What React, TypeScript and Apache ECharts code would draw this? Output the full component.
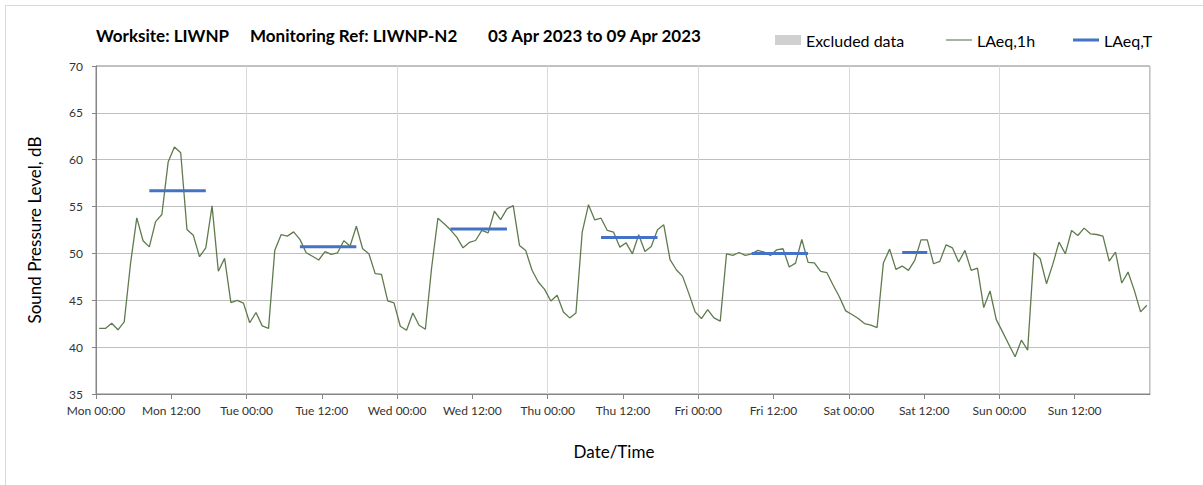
import React, { useEffect, useRef } from "react";
import * as echarts from "echarts";

// Hourly LAeq,1h values, Mon 00:00 .. Sun 23:00 (03–09 Apr 2023)
const laeq1h: number[] = [
  // Mon
  42.0, 42.0, 42.55, 41.85, 42.7, 48.9, 53.8, 51.35, 50.7, 53.4, 54.15, 59.75,
  61.35, 60.75, 52.55, 51.95, 49.65, 50.6, 55.07, 48.1, 49.47, 44.75, 45.0, 44.7,
  // Tue
  42.6, 43.7, 42.27, 42.0, 50.35, 52.0, 51.85, 52.3, 51.5, 50.07, 49.7, 49.3,
  50.2, 49.9, 50.07, 51.35, 50.8, 52.9, 50.5, 49.96, 47.84, 47.77, 44.93, 44.72,
  // Wed
  42.23, 41.8, 43.65, 42.34, 41.91, 48.5, 53.76, 53.16, 52.52, 51.74, 50.6, 51.17,
  51.38, 52.45, 52.2, 54.5, 53.6, 54.75, 55.1, 50.85, 50.3, 48.2, 46.95, 46.17,
  // Thu
  44.93, 45.53, 43.76, 43.12, 43.65, 52.27, 55.2, 53.58, 53.76, 52.45, 52.27, 50.67,
  51.13, 49.96, 51.99, 50.21, 50.74, 52.52, 53.05, 49.33, 48.26, 47.55, 45.71, 43.76,
  // Fri
  43.05, 44.0, 43.12, 42.77, 49.96, 49.79, 50.1, 49.79, 49.96, 50.32, 50.14, 49.79,
  50.39, 50.5, 48.55, 48.97, 51.49, 49.04, 49.0, 48.09, 47.94, 46.6, 45.35, 43.87,
  // Sat
  43.48, 43.05, 42.52, 42.34, 42.09, 48.97, 50.46, 48.3, 48.65, 48.19, 49.26, 51.45,
  51.45, 48.9, 49.15, 50.92, 50.6, 49.08, 50.32, 48.19, 48.44, 44.22, 45.99, 42.94,
  // Sun
  41.63, 40.28, 38.97, 40.74, 39.68, 50.07, 49.43, 46.77, 48.83, 51.2, 49.96, 52.45,
  51.91, 52.7, 52.09, 52.02, 51.84, 49.18, 50.14, 46.84, 48.01, 46.06, 43.76, 44.47,
];

// LAeq,T periods (hour index from Mon 00:00) and levels
const laeqTStart: number[] = [8, 32, 56, 80, 104, 128];
const laeqTEnd: number[] = [17, 41, 65, 89, 113, 132];
const laeqTValue: number[] = [56.7, 50.7, 52.6, 51.7, 50.0, 50.1];

const dayNames: string[] = ["Mon", "Tue", "Wed", "Thu", "Fri", "Sat", "Sun"];
const yTicks = { min: 35, max: 70, step: 5 };

const FONT = "Lato, 'Open Sans', sans-serif";

// legend icons: full 26x10 box (zero-area corner marks) with a centred bar
const thinLineIcon = "path://M0,0 L0.01,0 L0,0 Z M0,10 L0.01,10 L0,10 Z M0,4.5 L26,4.5 L26,5.6 L0,5.6 Z";
const thickLineIcon = "path://M0,0 L0.01,0 L0,0 Z M0,10 L0.01,10 L0,10 Z M0,3.5 L26,3.5 L26,6.5 L0,6.5 Z";

export default function App() {
  const ref = useRef<HTMLDivElement>(null);

  useEffect(() => {
    if (!ref.current) return;
    const chart = echarts.init(ref.current, null, { renderer: "svg" });

    const lineData = laeq1h.map((v, i) => [i + 0.5, v]);
    const tSeries = laeqTStart.map((s, k) => ({
      name: "LAeq,T",
      type: "line",
      xAxisIndex: 0,
      symbol: "none",
      showSymbol: false,
      color: "#4472c4",
      lineStyle: { color: "#4472c4", width: 3 },
      z: 4,
      data: [
        [s + 0.5, laeqTValue[k]],
        [laeqTEnd[k] + 0.5, laeqTValue[k]],
      ],
    }));

    const titleStyle = { fontFamily: FONT, fontWeight: "bold", fontSize: 17, color: "#000" };
    const legendBase = {
      top: 32,
      padding: 0,
      itemWidth: 26,
      itemHeight: 10,
      textStyle: { fontFamily: FONT, fontSize: 16, color: "#000" },
    };

    chart.setOption({
      animation: false,
      textStyle: { fontFamily: FONT },
      title: [
        { text: "Worksite: LIWNP", left: 96, top: 27, padding: 0, textStyle: titleStyle },
        { text: "Monitoring Ref: LIWNP-N2", left: 250, top: 27, padding: 0, textStyle: titleStyle },
        { text: "03 Apr 2023 to 09 Apr 2023", left: 488, top: 27, padding: 0, textStyle: titleStyle },
      ],
      legend: [
        { ...legendBase, left: 775, data: [{ name: "Excluded data", icon: "rect" }] },
        { ...legendBase, left: 946, data: [{ name: "LAeq,1h", icon: thinLineIcon, itemStyle: { color: "#4f6a3c" } }] },
        { ...legendBase, left: 1073, data: [{ name: "LAeq,T", icon: thickLineIcon, itemStyle: { color: "#4472c4" } }] },
      ],
      grid: {
        left: 96,
        top: 66,
        right: 53,
        bottom: 91,
        show: true,
        borderColor: "#868686",
        borderWidth: 1,
        backgroundColor: "transparent",
      },
      xAxis: [
        {
          type: "value",
          min: 0,
          max: 168,
          interval: 12,
          name: "Date/Time",
          nameLocation: "middle",
          nameGap: 49,
          nameTextStyle: { fontFamily: FONT, fontSize: 17, color: "#000", padding: [0, 18, 0, 0] },
          axisLine: { show: true, lineStyle: { color: "#868686" } },
          axisTick: { show: true, length: 5, lineStyle: { color: "#868686" } },
          splitLine: { show: false },
          axisLabel: {
            margin: 10,
            fontFamily: FONT,
            fontSize: 12,
            color: "#333",
            showMaxLabel: false,
            formatter: (v: number) => {
              if (v >= 168) return "";
              const d = dayNames[Math.floor(v / 24)];
              const h = v % 24;
              return d + " " + (h < 10 ? "0" + h : String(h)) + ":00";
            },
          },
        },
        {
          type: "value",
          min: 0,
          max: 168,
          interval: 24,
          position: "bottom",
          axisLine: { show: false },
          axisTick: { show: false },
          axisLabel: { show: false },
          splitLine: { show: true, lineStyle: { color: "#d9d9d9", width: 1 } },
        },
      ],
      yAxis: {
        type: "value",
        min: yTicks.min,
        max: yTicks.max,
        interval: yTicks.step,
        name: "Sound Pressure Level, dB",
        nameLocation: "middle",
        nameGap: 53,
        nameTextStyle: { fontFamily: FONT, fontSize: 17, color: "#000" },
        axisLine: { show: true, lineStyle: { color: "#868686" } },
        axisTick: { show: true, length: 4, lineStyle: { color: "#868686" } },
        axisLabel: { margin: 13, fontFamily: FONT, fontSize: 12, color: "#333" },
        splitLine: { show: true, lineStyle: { color: "#bfbfbf", width: 1 } },
      },
      graphic: [
        { type: "line", shape: { x1: 5.5, y1: 5.5, x2: 1203, y2: 5.5 }, style: { stroke: "#d9d9d9", lineWidth: 1 } },
        { type: "line", shape: { x1: 5.5, y1: 5.5, x2: 5.5, y2: 485 }, style: { stroke: "#d9d9d9", lineWidth: 1 } },
      ],
      series: [
        {
          name: "Excluded data",
          type: "bar",
          color: "#d0d0d0",
          itemStyle: { color: "#d0d0d0" },
          data: [],
        },
        {
          name: "LAeq,1h",
          type: "line",
          xAxisIndex: 0,
          symbol: "none",
          showSymbol: false,
          color: "#5a7548",
          lineStyle: { color: "#5f7b4e", width: 1.3 },
          z: 3,
          data: lineData,
        },
        ...tSeries,
      ],
    });

    return () => chart.dispose();
  }, []);

  return (
    <div
      ref={ref}
      style={{ position: "absolute", left: 0, top: 0, width: 1203, height: 485, background: "#fff" }}
    />
  );
}
